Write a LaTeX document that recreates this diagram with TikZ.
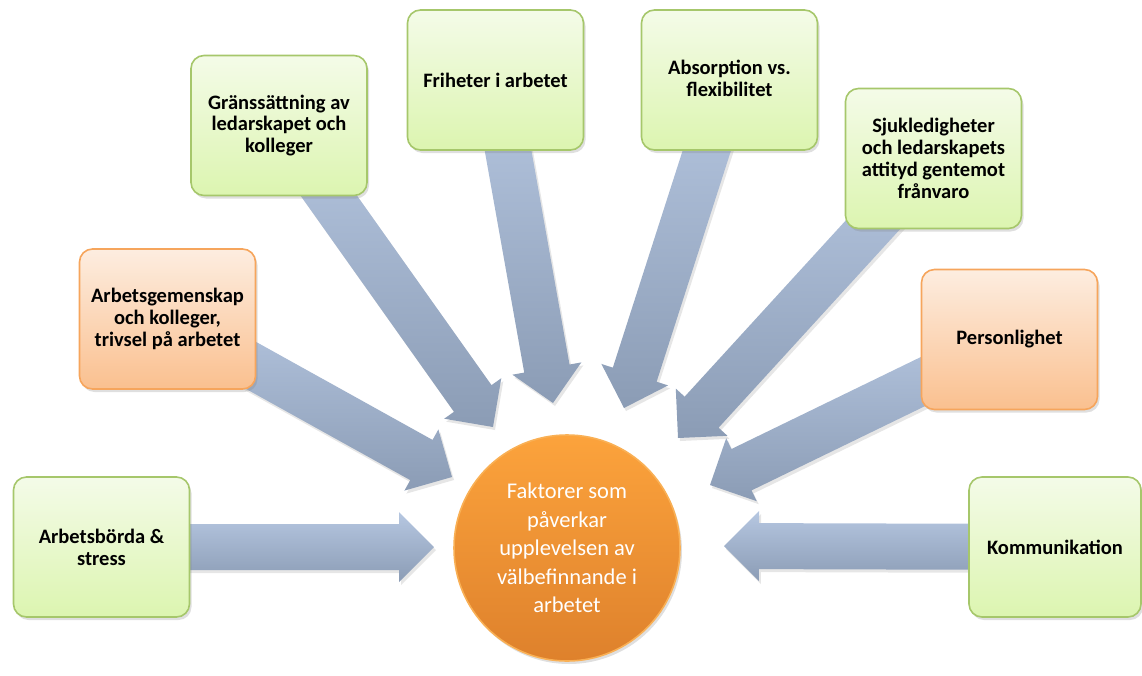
\documentclass[tikz,border=0pt]{standalone}
\usepackage{fontspec}
\setmainfont{Carlito}
\usepackage{tikz}
\usetikzlibrary{calc,shadows,backgrounds}

\definecolor{greentop}{HTML}{F4FBE8}
\definecolor{greenbot}{HTML}{DCF5B0}
\definecolor{greenline}{HTML}{A6C76B}
\definecolor{orangetop}{HTML}{FDEDE0}
\definecolor{orangebot}{HTML}{FAC08F}
\definecolor{orangeline}{HTML}{F6A55C}
\definecolor{circtop}{HTML}{FCA33C}
\definecolor{circbot}{HTML}{DE812C}
\definecolor{circline}{HTML}{F9B055}
\definecolor{arrowtop}{HTML}{B6C7E1}
\definecolor{arrowbot}{HTML}{8B9CB5}

\begin{document}
\begin{tikzpicture}[
  x=1pt, y=-1pt,
  box/.style={draw=greenline, line width=1.6pt, rounded corners=13pt, align=center,
    minimum width=176pt, minimum height=140pt, top color=greentop, bottom color=greenbot,
    font=\fontsize{20.5}{21.8}\selectfont\bfseries,
    drop shadow={opacity=.25, shadow xshift=2pt, shadow yshift=-3pt}},
  obox/.style={box, draw=orangeline, top color=orangetop, bottom color=orangebot},
  hub/.style={circle, draw=circline, line width=1.6pt, minimum size=226pt, align=center,
    top color=circtop, bottom color=circbot, text=white,
    font=\fontsize{22.5}{28.5}\selectfont,
    drop shadow={opacity=.25, shadow xshift=2pt, shadow yshift=-3pt}},
  blockarr/.style={top color=arrowtop, bottom color=arrowbot,
    drop shadow={opacity=.2, shadow xshift=2pt, shadow yshift=-3pt}}
]
\useasboundingbox (0,0) rectangle (1142,675);

% boxes round the centre
\node[box] (b1) at (101.5,547) {Arbetsbörda \&\\stress};
\node[obox] (b2) at (167.5,319) {Arbetsgemenskap\\och kolleger,\\trivsel på arbetet};
\node[box] (b3) at (279,125.5) {Gränssättning av\\ledarskapet och\\kolleger};
\node[box] (b4) at (495.5,80) {Friheter i arbetet};
\node[box] (b5) at (729.5,80) {Absorption vs.\\flexibilitet\vphantom{gj}};
\node[box] (b6) at (933.5,158.5) {Sjukledigheter\\och ledarskapets\\attityd gentemot\\frånvaro};
\node[obox] (b7) at (1009.5,339.5) {Personlighet};
\node[box, minimum width=172pt] (b8) at (1055,547) {Kommunikation};

\node[hub] (c) at (567,548) {Faktorer som\\påverkar\\upplevelsen av\\välbefinnande i\\arbetet};

% arrow tips
\coordinate (t1) at (434,547);
\coordinate (t2) at (452,477);
\coordinate (t3) at (493,427);
\coordinate (t4) at (553,403);
\coordinate (t5) at (624,408);
\coordinate (t6) at (678,438);
\coordinate (t7) at (710,485);
\coordinate (t8) at (724,546);

% block arrows behind the boxes
\begin{scope}[on background layer]
\foreach \b/\t in {b1/t1,b2/t2,b3/t3,b4/t4,b5/t5,b6/t6,b7/t7,b8/t8} {
  \coordinate (hb) at ($(\t)!35pt!(\b.center)$);
  \shade[blockarr] ($(\b.center)!23pt!90:(\t)$) -- ($(hb)!23pt!-90:(\b.center)$)
    -- ($(hb)!35pt!-90:(\b.center)$) -- (\t) -- ($(hb)!35pt!90:(\b.center)$)
    -- ($(hb)!23pt!90:(\b.center)$) -- ($(\b.center)!23pt!-90:(\t)$) -- cycle;
}
\end{scope}
\end{tikzpicture}
\end{document}
